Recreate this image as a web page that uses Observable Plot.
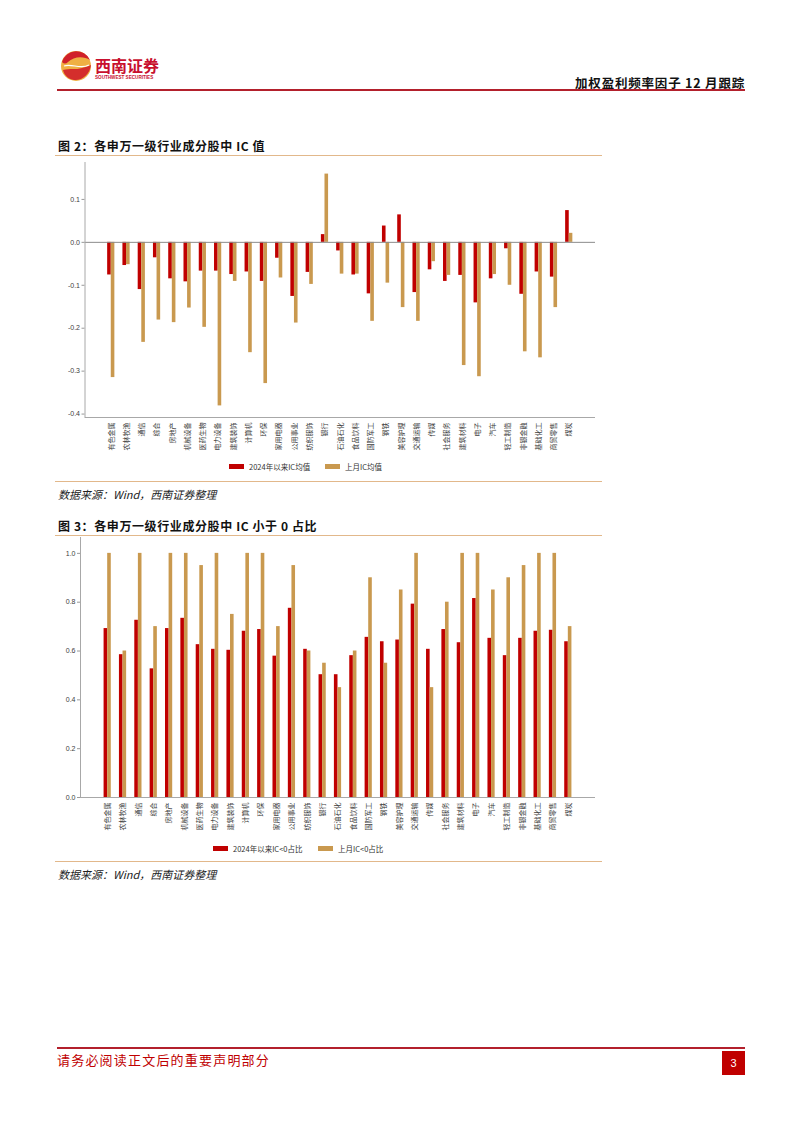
<!DOCTYPE html>
<html><head><meta charset="utf-8">
<script src="https://cdn.jsdelivr.net/npm/d3@7"></script>
<script src="https://cdn.jsdelivr.net/npm/@observablehq/plot@0.6"></script>
<style>
body{margin:0;background:#fff;}
#page{position:relative;width:802px;height:1133px;overflow:hidden;background:#fff;font-family:"Liberation Sans","Noto Sans CJK SC",sans-serif;}
.abs{position:absolute;white-space:nowrap;}
.cjk{font-family:"Noto Sans CJK SC","Liberation Sans",sans-serif;}
.title{font-size:12px;font-weight:bold;color:#111;letter-spacing:0.6px;}
.rule{height:1px;background:#e2b88b;}
.src{font-size:11px;font-style:italic;color:#222;}
.leg{font-size:7.5px;color:#333;display:flex;align-items:center;}
.sw{display:inline-block;width:15px;height:5px;margin-right:5px;}
</style></head><body><div id="page">
<svg class="abs" style="left:58px;top:48px" width="110" height="40">
  <circle cx="18" cy="18" r="15" fill="#efb043"/>
  <path d="M4,14 A15,15 0 0 1 32,12 C26,8 16,8 10,14 C8,16 6,16 4,14 Z" fill="#d0202a"/>
  <path d="M5,22 C12,20 18,22 24,20 C28,19 31,18 33,17 C32,26 24,33 16,32 C10,31 6,27 5,22 Z" fill="#d0202a" opacity="0.9"/>
  <path d="M6,18 C14,15 22,22 31,17" stroke="#fff" stroke-width="1.2" fill="none"/>
  <text x="37" y="24" font-family="Noto Sans CJK SC" font-weight="bold" font-size="16" fill="#c8102e">西南证券</text>
  <text x="37" y="31" font-family="Liberation Sans" font-size="4.6" font-weight="bold" fill="#c8102e">SOUTHWEST SECURITIES</text>
</svg>
<div class="abs cjk" style="right:57px;top:73px;font-size:12.5px;font-weight:bold;letter-spacing:0.8px;color:#111;">加权盈利频率因子 12 月跟踪</div>
<div class="abs" style="left:57px;top:89px;width:688px;height:2px;background:#b3202c;"></div>

<div class="abs cjk title" style="left:58px;top:137px;">图 2：各申万一级行业成分股中 IC 值</div>
<div class="abs rule" style="left:55px;top:155px;width:547px;"></div>
<div class="abs" id="c1" style="left:40px;top:150px;"></div>
<div class="abs leg cjk" style="left:229px;top:461px;"><span class="sw" id="s1a"></span><span id="l1a"></span></div>
<div class="abs leg cjk" style="left:325px;top:461px;"><span class="sw" id="s1b"></span><span id="l1b"></span></div>
<div class="abs rule" style="left:55px;top:481px;width:547px;"></div>
<div class="abs cjk src" style="left:58px;top:486px;">数据来源：Wind，西南证券整理</div>

<div class="abs cjk title" style="left:58px;top:517px;">图 3：各申万一级行业成分股中 IC 小于 0 占比</div>
<div class="abs rule" style="left:55px;top:535px;width:547px;"></div>
<div class="abs" id="c2" style="left:40px;top:530px;"></div>
<div class="abs leg cjk" style="left:213px;top:843px;"><span class="sw" id="s2a"></span><span id="l2a"></span></div>
<div class="abs leg cjk" style="left:318px;top:843px;"><span class="sw" id="s2b"></span><span id="l2b"></span></div>
<div class="abs rule" style="left:55px;top:861px;width:547px;"></div>
<div class="abs cjk src" style="left:58px;top:866px;">数据来源：Wind，西南证券整理</div>

<div class="abs" style="left:57px;top:1047px;width:688px;height:1.5px;background:#b3202c;"></div>
<div class="abs cjk" style="left:57px;top:1050px;font-size:13px;color:#c00000;letter-spacing:1.2px;">请务必阅读正文后的重要声明部分</div>
<div class="abs" style="left:722px;top:1051px;width:23px;height:24px;background:#c00000;color:#fff;font-size:11px;line-height:24px;text-align:center;">3</div>
</div>
<script>
const industries = ["有色金属","农林牧渔","通信","综合","房地产","机械设备","医药生物","电力设备","建筑装饰","计算机","环保","家用电器","公用事业","纺织服饰","银行","石油石化","食品饮料","国防军工","钢铁","美容护理","交通运输","传媒","社会服务","建筑材料","电子","汽车","轻工制造","非银金融","基础化工","商贸零售","煤炭"];
const icYear = [-0.076,-0.054,-0.110,-0.036,-0.085,-0.092,-0.067,-0.067,-0.075,-0.069,-0.091,-0.037,-0.126,-0.070,0.018,-0.020,-0.076,-0.120,0.038,0.064,-0.117,-0.064,-0.091,-0.077,-0.141,-0.085,-0.015,-0.121,-0.069,-0.081,0.074];
const icLastMonth = [-0.315,-0.052,-0.233,-0.181,-0.187,-0.153,-0.198,-0.381,-0.091,-0.257,-0.329,-0.083,-0.188,-0.098,0.159,-0.074,-0.074,-0.184,-0.095,-0.152,-0.184,-0.045,-0.077,-0.287,-0.313,-0.075,-0.100,-0.255,-0.269,-0.152,0.021];
const negYear = [0.692,0.585,0.726,0.527,0.692,0.734,0.626,0.607,0.603,0.681,0.688,0.579,0.775,0.607,0.503,0.503,0.581,0.656,0.638,0.645,0.792,0.607,0.688,0.634,0.815,0.652,0.581,0.652,0.681,0.685,0.638];
const negLastMonth = [1.0,0.6,1.0,0.7,1.0,1.0,0.95,1.0,0.75,1.0,1.0,0.7,0.95,0.6,0.55,0.45,0.6,0.9,0.55,0.85,1.0,0.45,0.8,1.0,1.0,0.85,0.9,0.95,1.0,1.0,0.7];
const icTicks = [0.1,0,-0.1,-0.2,-0.3,-0.4];
const negTicks = [0,0.2,0.4,0.6,0.8,1.0];
const seriesIC = ["2024年以来IC均值","上月IC均值"];
const seriesNeg = ["2024年以来IC<0占比","上月IC<0占比"];
const colors = ["#c00000","#c9994f"];

const NS = "http://www.w3.org/2000/svg";
function axisLines() {
  return (index, scales, values, dims) => {
    const g = document.createElementNS(NS, "g");
    const x0 = dims.marginLeft, x1 = dims.width - dims.marginRight;
    const y0 = dims.marginTop, y1 = dims.height - dims.marginBottom;
    const line = (a, b, c, d, col) => {
      const l = document.createElementNS(NS, "line");
      l.setAttribute("x1", a); l.setAttribute("y1", b);
      l.setAttribute("x2", c); l.setAttribute("y2", d);
      l.setAttribute("stroke", col); l.setAttribute("stroke-width", 1);
      g.appendChild(l);
    };
    line(x0 + 0.5, y0, x0 + 0.5, y1, "#a8a8a8");
    line(x0, y1 + 0.5, x1, y1 + 0.5, "#a8a8a8");
    return g;
  };
}

function grouped({el, a, b, yDomain, yTicks, marginLeft, marginTop, plotH, po, zero}) {
  const W = 562, marginRight = 7, marginBottom = 58;
  const innerW = W - marginLeft - marginRight;
  const bw = innerW / (industries.length + 2 * po);
  const barW = 3.6;
  const rowsA = industries.map((c, i) => ({cat: c, v: a[i]}));
  const rowsB = industries.map((c, i) => ({cat: c, v: b[i]}));
  const chart = Plot.plot({
    width: W, height: marginTop + plotH + marginBottom,
    marginLeft, marginRight, marginTop, marginBottom,
    style: {fontFamily: "Liberation Sans, Noto Sans CJK SC, sans-serif", fontSize: "7px", color: "#404040", background: "transparent"},
    x: {domain: industries, paddingInner: 0, paddingOuter: po, round: false, label: null},
    y: {domain: yDomain, label: null},
    marks: [
      Plot.barY(rowsA, {x: "cat", y: "v", fill: colors[0], insetLeft: bw / 2 - barW, insetRight: bw / 2}),
      Plot.barY(rowsB, {x: "cat", y: "v", fill: colors[1], insetLeft: bw / 2, insetRight: bw / 2 - barW}),
      zero ? Plot.ruleY([0], {stroke: "#8c8c8c", strokeWidth: 1}) : null,
      Plot.axisY({ticks: yTicks, tickFormat: d => d.toFixed(1), tickSize: 3, tickPadding: 2, stroke: "#999", label: null}),
      Plot.axisX({tickRotate: -90, tickSize: 0, tickPadding: 5, fontFamily: "Noto Sans CJK SC", label: null}),
      axisLines()
    ]
  });
  document.getElementById(el).appendChild(chart);
}

grouped({el: "c1", a: icYear, b: icLastMonth, yDomain: [-0.408, 0.186], yTicks: icTicks,
  marginLeft: 44.5, marginTop: 12, plotH: 255, po: 1.22, zero: true});
grouped({el: "c2", a: negYear, b: negLastMonth, yDomain: [0, 1.065], yTicks: negTicks,
  marginLeft: 40, marginTop: 7, plotH: 260, po: 1.27, zero: false});

document.getElementById("s1a").style.background = colors[0];
document.getElementById("s1b").style.background = colors[1];
document.getElementById("s2a").style.background = colors[0];
document.getElementById("s2b").style.background = colors[1];
document.getElementById("l1a").textContent = seriesIC[0];
document.getElementById("l1b").textContent = seriesIC[1];
document.getElementById("l2a").textContent = seriesNeg[0];
document.getElementById("l2b").textContent = seriesNeg[1];
</script>
</body></html>
